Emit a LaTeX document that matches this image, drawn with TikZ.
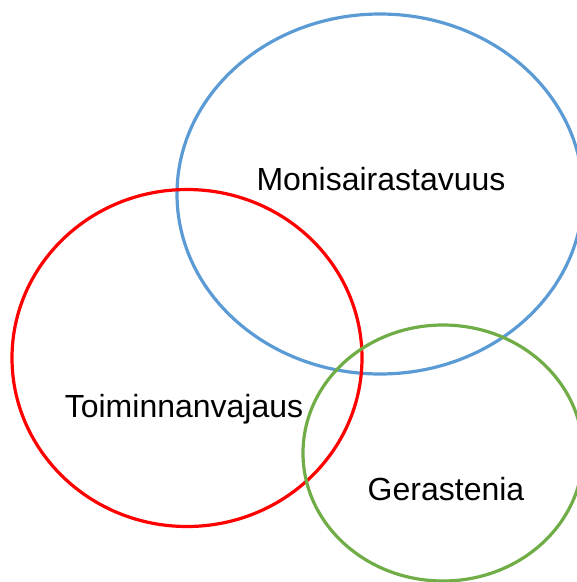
\documentclass[tikz,border=0pt]{standalone}
\usepackage{fontspec}
\setmainfont{Liberation Sans}
\usepackage{tikz}

\definecolor{setblue}{HTML}{5B9BD5}
\definecolor{setred}{HTML}{FF0000}
\definecolor{setgreen}{HTML}{70AD47}

\begin{document}
\begin{tikzpicture}[x=1pt,y=-1pt,every node/.style={font=\fontsize{32}{36}\selectfont}]
  \useasboundingbox (0,0) rectangle (577,582);
  \clip (0,0) rectangle (577,582);
  \draw[setblue,line width=3.2pt] (380,194) ellipse [x radius=203,y radius=180];
  \draw[setred,line width=3.2pt] (187,358) ellipse [x radius=175,y radius=168.5];
  \draw[setgreen,line width=3.2pt] (443,453) ellipse [x radius=140,y radius=128];
  \node (multi) at (381,179) {Monisairastavuus};
  \node (func) at (184,409) {Toiminnanvajaus};
  \node (frail) at (446,489) {Gerastenia};
\end{tikzpicture}
\end{document}
